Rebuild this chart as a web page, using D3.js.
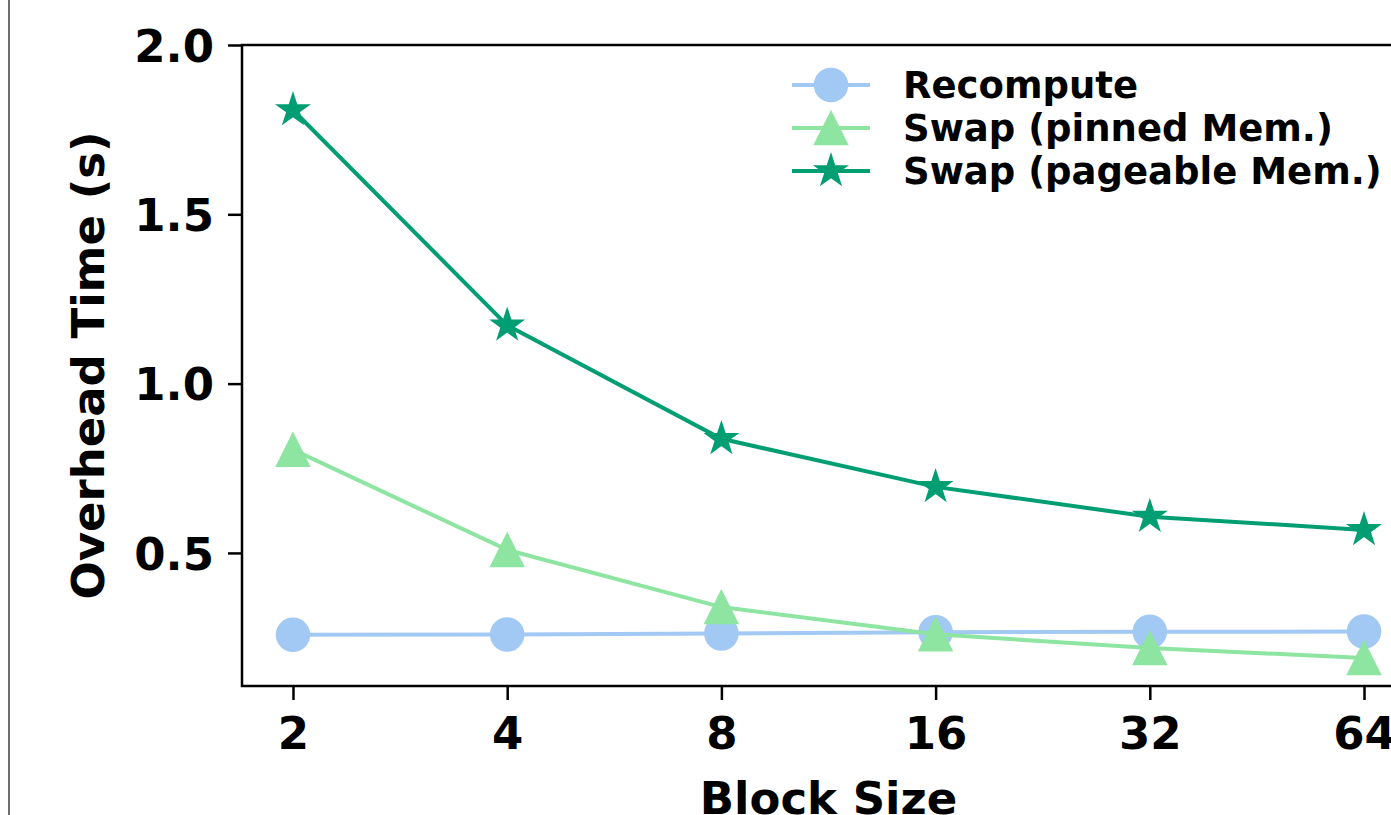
<!DOCTYPE html>
<meta charset="utf-8">
<script src="https://cdn.jsdelivr.net/npm/d3@7"></script>
<style>
body { margin: 0; background: #fff; }
svg { display: block; overflow: hidden; }
text { font-family: "DejaVu Sans", sans-serif; font-weight: bold; fill: #000; }
.tick line { stroke: #000; stroke-width: 2.5px; }
</style>
<body>
<script>

// block sizes on the x axis
var blockSizes = [2, 4, 8, 16, 32, 64];

// overhead time (s)
var recompute = [0.258, 0.259, 0.262, 0.266, 0.267, 0.268];
var swapPinned = [0.805, 0.509, 0.340, 0.260, 0.219, 0.190];
var swapPageable = [1.808, 1.172, 0.837, 0.695, 0.607, 0.568];

var yTicks = [0.5, 1.0, 1.5, 2.0];
var seriesNames = ["Recompute", "Swap (pinned Mem.)", "Swap (pageable Mem.)"];

var width = 1391,
    height = 815;

// plot box (right edge runs past the picture, like the source)
var plotLeft = 242, plotTop = 45, plotRight = 1415, plotBottom = 686;
var ms = 33;  // marker size

var svg = d3.select("body").append("svg")
    .attr("width", width)
    .attr("height", height);

// thin grey border on the far left
svg.append("line")
    .attr("x1", 9).attr("x2", 9)
    .attr("y1", 0).attr("y2", height)
    .attr("stroke", "#6e6e6e")
    .attr("stroke-width", 2);

// log2 x scale with matplotlib style padding
var pad = 0.238;
var x = d3.scaleLog().base(2)
    .domain([Math.pow(2, 1 - pad), Math.pow(2, 6 + pad)])
    .range([plotLeft, plotRight]);

var y = d3.scaleLinear()
    .domain([0.107, 2.0])
    .range([plotBottom, plotTop]);

// axes
var xAxis = svg.append("g")
    .attr("transform", "translate(0," + plotBottom + ")")
    .call(d3.axisBottom(x).tickValues(blockSizes).tickFormat(d3.format("d")).tickSize(14));
xAxis.select(".domain").remove();
xAxis.attr("font-family", null).attr("font-size", null);
xAxis.selectAll("text")
    .attr("font-size", 45)
    .attr("dy", null)
    .attr("y", 63);

var yAxis = svg.append("g")
    .attr("transform", "translate(" + plotLeft + ",0)")
    .call(d3.axisLeft(y).tickValues(yTicks).tickFormat(d3.format(".1f")).tickSize(14));
yAxis.select(".domain").remove();
yAxis.attr("font-family", null).attr("font-size", null);
yAxis.selectAll("text")
    .attr("font-size", 45)
    .attr("x", -28)
    .attr("dy", "0.36em");

// frame
svg.append("rect")
    .attr("x", plotLeft).attr("y", plotTop)
    .attr("width", plotRight - plotLeft).attr("height", plotBottom - plotTop)
    .attr("fill", "none")
    .attr("stroke", "#000")
    .attr("stroke-width", 2.5);

// axis titles
svg.append("text")
    .attr("x", (plotLeft + plotRight) / 2)
    .attr("y", 814)
    .attr("text-anchor", "middle")
    .attr("font-size", 45)
    .text("Block Size");

svg.append("text")
    .attr("transform", "translate(104," + ((plotTop + plotBottom) / 2) + ") rotate(-90)")
    .attr("text-anchor", "middle")
    .attr("font-size", 45)
    .text("Overhead Time (s)");

// marker shapes
function circlePath(s) {
  return d3.symbol(d3.symbolCircle, Math.PI * (s / 2) * (s / 2))();
}
function trianglePath(s) {
  var h = s / 2;
  return "M0," + (-h) + "L" + (-h) + "," + h + "L" + h + "," + h + "Z";
}
function starPath(s) {
  var R = s / 2, r = R * 0.381966, pts = [];
  for (var i = 0; i < 10; i++) {
    var a = Math.PI / 5 * i - Math.PI / 2;
    var rr = i % 2 === 0 ? R : r;
    pts.push([rr * Math.cos(a), rr * Math.sin(a)]);
  }
  return "M" + pts.map(function(p) { return p[0].toFixed(2) + "," + p[1].toFixed(2); }).join("L") + "Z";
}

var series = [
  {name: seriesNames[0], values: recompute, color: "#a1c9f4", shape: circlePath},
  {name: seriesNames[1], values: swapPinned, color: "#8de5a1", shape: trianglePath},
  {name: seriesNames[2], values: swapPageable, color: "#029e73", shape: starPath}
];

var line = d3.line()
    .x(function(d) { return x(d[0]); })
    .y(function(d) { return y(d[1]); });

var plot = svg.append("g");

series.forEach(function(s) {
  var pts = blockSizes.map(function(b, i) { return [b, s.values[i]]; });
  var g = plot.append("g");
  g.append("path")
      .datum(pts)
      .attr("d", line)
      .attr("fill", "none")
      .attr("stroke", s.color)
      .attr("stroke-width", 4);
  g.selectAll("path.mark")
      .data(pts)
      .enter().append("path")
      .attr("class", "mark")
      .attr("transform", function(d) { return "translate(" + x(d[0]) + "," + y(d[1]) + ")"; })
      .attr("d", s.shape(ms))
      .attr("fill", s.color)
      .attr("stroke", s.color)
      .attr("stroke-width", 1.5);
});

// legend
var legend = svg.append("g").attr("transform", "translate(792,85)");
series.forEach(function(s, i) {
  var row = legend.append("g").attr("transform", "translate(0," + (i * 43) + ")");
  row.append("line")
      .attr("x1", 0).attr("x2", 78)
      .attr("stroke", s.color)
      .attr("stroke-width", 4);
  row.append("path")
      .attr("transform", "translate(39,0)")
      .attr("d", s.shape(ms))
      .attr("fill", s.color)
      .attr("stroke", s.color)
      .attr("stroke-width", 1.5);
  row.append("text")
      .attr("x", 111)
      .attr("y", 13)
      .attr("font-size", 37)
      .text(s.name);
});

</script>
</body>
